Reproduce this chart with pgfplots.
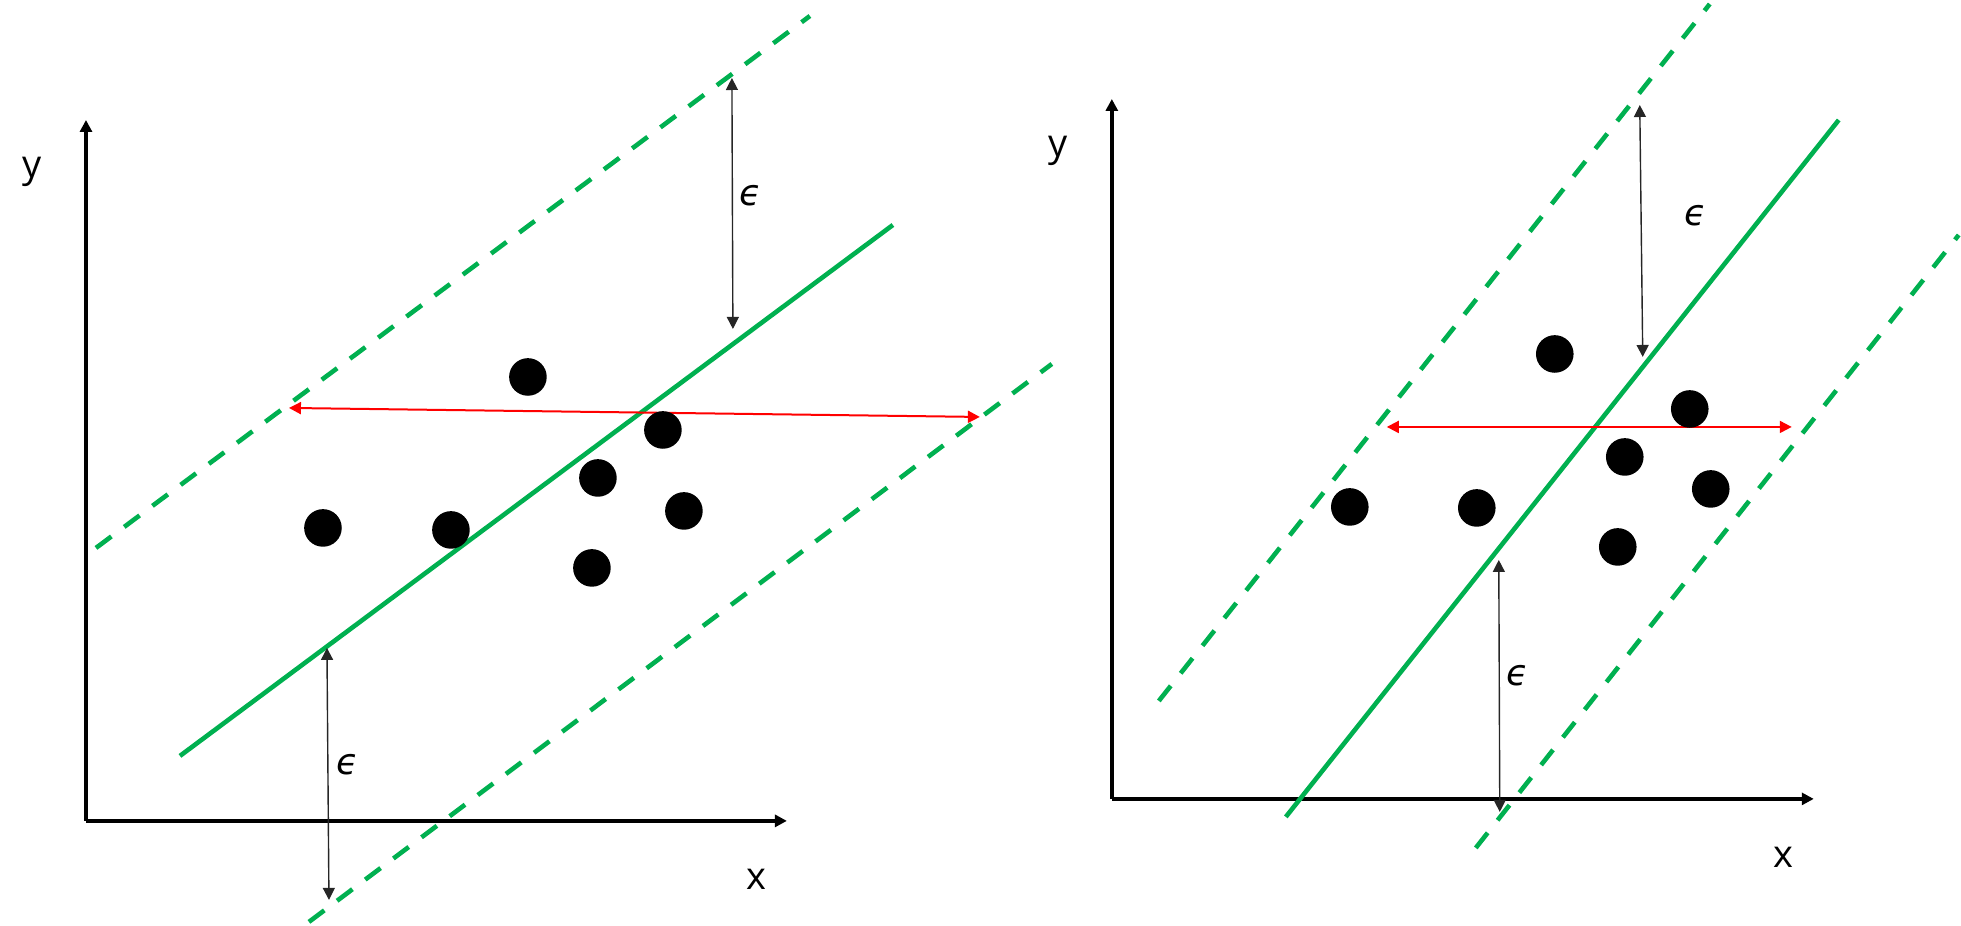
\documentclass[border=0pt]{standalone}
\usepackage{fontspec}
\setmainfont{Open Sans}
\newfontfamily\epsfont{DejaVu Sans}
\usepackage{pgfplots}
\pgfplotsset{compat=1.18}
\usetikzlibrary{arrows.meta}
\definecolor{svrgreen}{HTML}{00B050}
\definecolor{svrred}{HTML}{FF0000}
\tikzset{epslab/.style={font=\epsfont\itshape\fontsize{9}{11}\selectfont}}
\pgfplotsset{
  svr/.style={
    x=0.25pt, y=0.25pt,
    axis lines=left,
    enlargelimits=false,
    clip=false,
    xtick=\empty, ytick=\empty,
    axis line style={line width=0.85pt, black, -{Triangle[length=3pt,width=3pt]}},
    every axis x label/.style={at={(axis description cs:0.957,-0.084)},anchor=center},
    every axis y label/.style={at={(axis description cs:-0.077,0.926)},anchor=center},
    label style={font=\fontsize{9.5}{11}\selectfont},
    anchor=south west,
  },
  center/.style={svrgreen, line width=1.15pt},
  tube/.style={svrgreen, line width=1.15pt, dash pattern=on 4.8pt off 4pt},
  eps/.style={black!85, line width=0.35pt, {Triangle[length=3pt,width=3pt]}-{Triangle[length=3pt,width=3pt]}},
  span/.style={svrred, line width=0.5pt, {Triangle[length=3pt,width=3pt]}-{Triangle[length=3pt,width=3pt]}},
  pts/.style={only marks, mark=*, mark size=4.5pt, black, mark options={fill=black}},
}
\begin{document}
\begin{tikzpicture}
% Left panel
\begin{axis}[svr, at={(21.5pt,26.25pt)},
  xmin=86, xmax=787, ymin=105, ymax=806,
  xlabel={x}, ylabel={y}]
\addplot[draw=none] coordinates {(0,0) (1961,926)};
\addplot[center] coordinates {(180,170) (893,701)};
\addplot[tube] coordinates {(96,378) (810,910)};
\addplot[tube] coordinates {(309,4) (1052,562)};
\addplot[eps] coordinates {(732,848) (733,597)};
\addplot[eps] coordinates {(327,278) (329,26)};
\addplot[span] coordinates {(289,518) (980,509)};
\addplot[pts] coordinates {
  (528,549) (663,496) (598,448) (684,415) (323,398) (451,396) (592,358)};
\node[epslab] at (axis cs:751,730) {ϵ};
\node[epslab] at (axis cs:348,161) {ϵ};
\end{axis}
% Right panel
\begin{axis}[svr, at={(278pt,31.75pt)},
  xmin=1112, xmax=1814, ymin=127, ymax=827,
  xlabel={x}, ylabel={y}]
\addplot[center] coordinates {(1286,109) (1839,806)};
\addplot[tube] coordinates {(1159,225) (1710,922)};
\addplot[tube] coordinates {(1476,78) (1959,691)};
\addplot[eps] coordinates {(1640,821) (1643,569)};
\addplot[eps] coordinates {(1499,366) (1500,114)};
\addplot[span] coordinates {(1387,499) (1792,499)};
\addplot[pts] coordinates {
  (1555,572) (1690,517) (1625,469) (1711,437) (1477,418) (1350,419) (1618,379)};
\node[epslab] at (axis cs:1696,710) {ϵ};
\node[epslab] at (axis cs:1518,250) {ϵ};
\end{axis}
\end{tikzpicture}
\end{document}
